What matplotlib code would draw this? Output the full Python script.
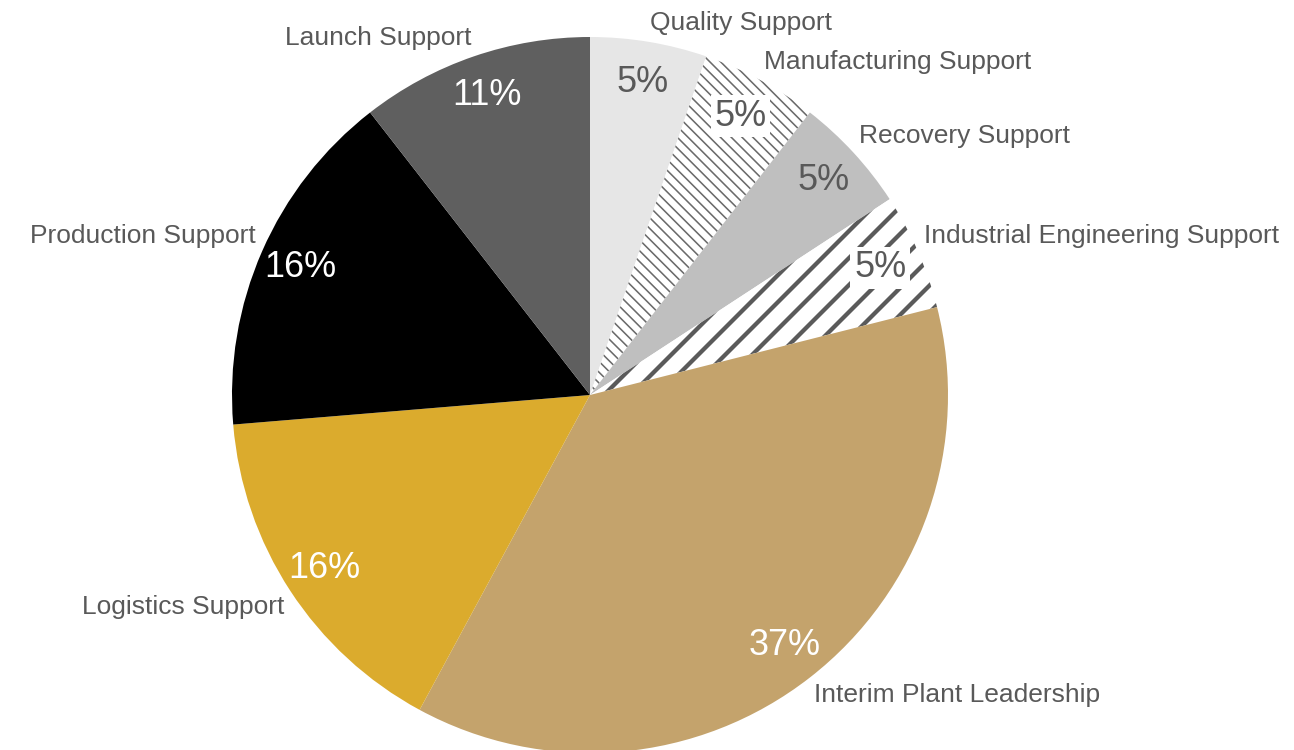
import matplotlib
matplotlib.use("Agg")
import matplotlib.pyplot as plt
import numpy as np

plt.rcParams['font.family'] = ['Liberation Sans', 'DejaVu Sans']

# support type counts (clockwise from 12 o'clock)
categories = ["Quality Support", "Manufacturing Support", "Recovery Support",
              "Industrial Engineering Support", "Interim Plant Leadership",
              "Logistics Support", "Production Support", "Launch Support"]
counts = [1, 1, 1, 1, 7, 3, 3, 2]
colors = ["#e6e6e6", "white", "#bfbfbf", "white", "#c4a36c",
          "#dbab2d", "#000000", "#5f5f5f"]
hatches = ["", "\\\\\\\\\\", "", "//", "", "", "", ""]
hatch_colors = ["none", "#6a6a6a", "none", "#5a5a5a",
                "none", "none", "none", "none"]
hatch_lw = [0, 0.7, 0, 1.9, 0, 0, 0, 0]
pct_colors = ["#595959", "#595959", "#595959", "#595959",
              "white", "white", "white", "white"]
text_gray = "#595959"

# hatch tile is 72pt, so the dpi sets the stripe spacing
DPI = 162
W, H = 1294, 750
px = 72.0 / DPI  # points per pixel

fig = plt.figure(figsize=(W / DPI, H / DPI), dpi=DPI)
ax = fig.add_axes([0, 0, 1, 1])

wedges, texts = ax.pie(counts, colors=colors, hatch=hatches, startangle=90,
                       counterclock=False, wedgeprops=dict(linewidth=0))

R = 358.0  # radius in pixels
cx, cy = 590.0, 395.0
ax.set_xlim(-cx / R, (W - cx) / R)
ax.set_ylim(-(H - cy) / R, cy / R)
ax.axis('off')

total = sum(counts)
for w, hc, lw, name, v, pc, h in zip(wedges, hatch_colors, hatch_lw,
                                     categories, counts, pct_colors, hatches):
    if h:
        w.set_edgecolor(hc)
        w.set_linewidth(0)
        if hasattr(w, 'set_hatch_linewidth'):
            w.set_hatch_linewidth(lw)
        else:
            w._hatch_linewidth = lw
    mid = np.deg2rad((w.theta1 + w.theta2) / 2)
    c, s = np.cos(mid), np.sin(mid)
    # category name just outside the rim
    ax.text(1.02 * c, 1.02 * s, name, fontsize=26.4 * px, color=text_gray,
            ha='left' if c > 0 else 'right',
            va='bottom' if s > 0 else 'top')
    # percentage inside the slice
    box = dict(boxstyle='square,pad=0.1', fc='white', ec='none') if h else None
    ax.text(0.885 * c, 0.885 * s, f"{100 * v / total:.0f}%",
            fontsize=36 * px, color=pc, ha='center', va='center', bbox=box)

fig.savefig("out.png", dpi=DPI)
